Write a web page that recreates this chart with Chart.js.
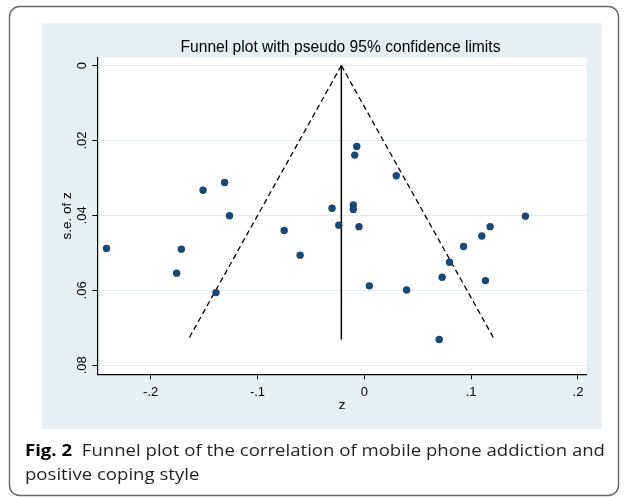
<!DOCTYPE html>
<html>
<head>
<meta charset="utf-8">
<script src="https://cdn.jsdelivr.net/npm/chart.js@4/dist/chart.umd.min.js"></script>
<style>
  html, body { margin:0; padding:0; background:#fff; }
  body { width:627px; height:497px; position:relative; overflow:hidden; }
  #c { position:absolute; left:0; top:0; }
  #cap { position:absolute; left:25px; top:437.5px; font-family:'Open Sans', 'Noto Sans', sans-serif; font-size:16.4px; line-height:24px; color:#231f20; }
  .ln { white-space:nowrap; display:block; transform-origin:0 50%; }
  .ln span.t { display:inline-block; }
  b { font-weight:700; color:#000; }
</style>
</head>
<body>
<canvas id="c" width="627" height="497"></canvas>
<div id="cap">
  <div class="ln"><span class="t" id="t1"><b>Fig. 2</b>&nbsp; Funnel plot of the correlation of mobile phone addiction and</span></div>
  <div class="ln"><span class="t" id="t2">positive coping style</span></div>
</div>
<script>
// ---- data ----
const zValues  = [-0.2414, -0.1713, -0.1757, -0.1510, -0.1308, -0.1262, -0.1389, -0.0750, -0.0601,
                  -0.0071, -0.0090, 0.0299, -0.0302, -0.0103, -0.0103, -0.0239, -0.0050,
                  0.1508, 0.1178, 0.1100, 0.0929, 0.0798, 0.0729, 0.1134, 0.0047, 0.0396, 0.0701];
const seValues = [0.0488, 0.0490, 0.0554, 0.0333, 0.0312, 0.0401, 0.0606, 0.0440, 0.0506,
                  0.0216, 0.0239, 0.0294, 0.0381, 0.0372, 0.0384, 0.0426, 0.0430,
                  0.0402, 0.0430, 0.0455, 0.0483, 0.0525, 0.0565, 0.0574, 0.0588, 0.0599, 0.0731];
// funnel: pooled estimate line and pseudo 95% limits (left end, apex, right end)
const funnelZ  = [-0.1648, -0.0215, 0.1218];
const funnelSe = [0.0731, 0.0, 0.0731];
const xTickVals   = [-0.2, -0.1, 0, 0.1, 0.2];
const xTickLabels = ['-.2', '-.1', '0', '.1', '.2'];
const yTickVals   = [0, 0.02, 0.04, 0.06, 0.08];
const yTickLabels = ['0', '.02', '.04', '.06', '.08'];
const titleText = 'Funnel plot with pseudo 95% confidence limits';
const xTitle = 'z';
const yTitle = 's.e. of z';

const points = zValues.map((z, i) => ({ x: z, y: seValues[i] }));
const leftLimit  = [{ x: funnelZ[1], y: funnelSe[1] }, { x: funnelZ[0], y: funnelSe[0] }];
const rightLimit = [{ x: funnelZ[1], y: funnelSe[1] }, { x: funnelZ[2], y: funnelSe[2] }];
const pooledLine = [{ x: funnelZ[1], y: funnelSe[1] }, { x: funnelZ[1], y: funnelSe[0] }];

const PANEL = { l: 42, t: 23.3, r: 601.7, b: 429 };

const bgPlugin = {
  id: 'bg',
  beforeDraw(chart) {
    const ctx = chart.ctx, a = chart.chartArea;
    ctx.save();
    ctx.fillStyle = '#fff';
    ctx.fillRect(0, 0, chart.width, chart.height);
    // card outline
    ctx.strokeStyle = '#666';
    ctx.lineWidth = 1.4;
    ctx.beginPath();
    if (ctx.roundRect) ctx.roundRect(9.5, 6.5, 609, 489, 10);
    else ctx.rect(9.5, 6.5, 609, 489);
    ctx.stroke();
    // graph region
    ctx.fillStyle = '#e8eff2';
    ctx.fillRect(PANEL.l, PANEL.t, PANEL.r - PANEL.l, PANEL.b - PANEL.t);
    // plot region
    ctx.fillStyle = '#fff';
    ctx.fillRect(a.left, a.top, a.right - a.left, a.bottom - a.top);
    // title
    ctx.fillStyle = '#000';
    ctx.font = '15.6px "Liberation Sans", Arial, sans-serif';
    ctx.textAlign = 'center';
    ctx.textBaseline = 'alphabetic';
    ctx.fillText(titleText, 340.5, 51.7);
    ctx.restore();
  }
};

const tickFont = { family: '"Liberation Sans", Arial, sans-serif', size: 13 };
const titleFont = { family: '"Liberation Sans", Arial, sans-serif', size: 13.5 };

new Chart(document.getElementById('c'), {
  type: 'scatter',
  data: {
    datasets: [
      { data: points, backgroundColor: '#1a4876', borderWidth: 0, pointRadius: 3.7, pointHoverRadius: 3.7, showLine: false },
      { data: pooledLine, showLine: true, borderColor: '#000', borderWidth: 1.5, pointRadius: 0, fill: false },
      { data: leftLimit, showLine: true, borderColor: '#000', borderWidth: 1.3, borderDash: [5.5, 3.5], pointRadius: 0, fill: false },
      { data: rightLimit, showLine: true, borderColor: '#000', borderWidth: 1.3, borderDash: [5.5, 3.5], pointRadius: 0, fill: false }
    ]
  },
  options: {
    responsive: false,
    animation: false,
    devicePixelRatio: 1,
    layout: { padding: { left: 42, right: 40.3, top: 57.3, bottom: 60 } },
    plugins: { legend: { display: false }, title: { display: false }, tooltip: { enabled: false } },
    scales: {
      x: {
        type: 'linear', min: -0.25, max: 0.2082,
        afterBuildTicks: s => { s.ticks = xTickVals.map(v => ({ value: v })); },
        afterFit: s => { s.height = 62.7; },
        ticks: { font: tickFont, color: '#000', padding: 5, maxRotation: 0, minRotation: 0, autoSkip: false,
                 callback: (v, i) => xTickLabels[i] },
        grid: { drawOnChartArea: false, color: 'rgba(0,0,0,0)', tickColor: '#000', tickLength: 5, tickWidth: 1 },
        border: { display: true, color: '#000', width: 1.2 },
        title: { display: true, text: xTitle, font: titleFont, color: '#000', padding: { top: 0, bottom: 24.1 } }
      },
      y: {
        type: 'linear', reverse: true, min: -0.0022, max: 0.0824,
        afterBuildTicks: s => { s.ticks = yTickVals.map(v => ({ value: v })); },
        afterFit: s => { s.width = 55.3; },
        ticks: { font: tickFont, color: '#000', padding: 1, minRotation: 90, maxRotation: 90, crossAlign: 'center', autoSkip: false,
                 callback: (v, i) => yTickLabels[i] },
        grid: { drawOnChartArea: true, color: '#e2eaee', lineWidth: 1, tickColor: '#000', tickLength: 5, tickWidth: 1 },
        border: { display: true, color: '#000', width: 1.2 },
        title: { display: true, text: yTitle, font: titleFont, color: '#000', padding: { top: 17.2, bottom: 0 } }
      }
    }
  },
  plugins: [bgPlugin]
});

// fit caption line widths to the reference
(function () {
  const t1 = document.getElementById('t1'), t2 = document.getElementById('t2');
  const w = t1.getBoundingClientRect().width;
  const k = 580 / w;
  t1.parentNode.style.transform = 'scaleX(' + k + ')';
  t2.parentNode.style.transform = 'scaleX(' + k + ')';
})();
</script>
</body>
</html>
